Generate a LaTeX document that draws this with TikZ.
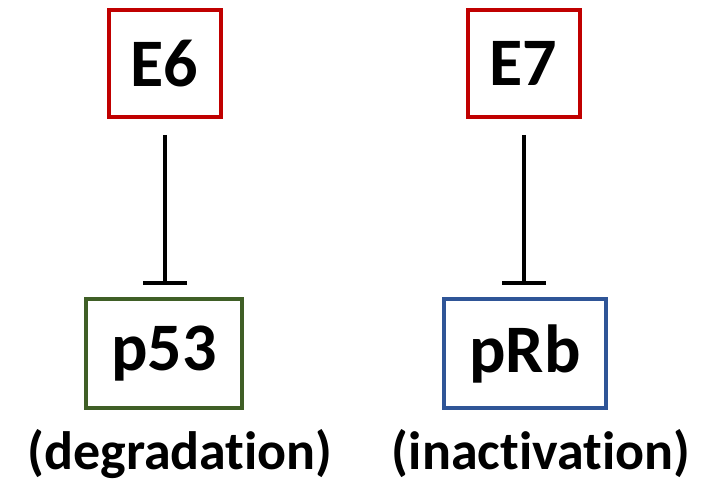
\documentclass[tikz,border=0pt]{standalone}
\usepackage{fontspec}
\setmainfont{Carlito}[Ligatures={NoCommon,NoContextual}]
\usetikzlibrary{arrows.meta}
\definecolor{boxred}{HTML}{C00000}
\definecolor{boxgreen}{HTML}{3F5F26}
\definecolor{boxblue}{HTML}{2F5597}
\begin{document}
\begin{tikzpicture}[x=1pt,y=-1pt,
  gene/.style={draw, line width=4pt, inner sep=0pt, font=\fontsize{68}{72}\selectfont\bfseries, text=black},
  inhib/.style={line width=4pt, -{Bar[width=44pt,line width=4pt]}, shorten >=12pt},
  lbl/.style={font=\fontsize{54}{58}\selectfont\bfseries, inner sep=0pt}]
\useasboundingbox (0,0) rectangle (715,484);
\node[gene, draw=boxred, minimum width=112pt, minimum height=107pt] (e6) at (164.5,63.5) {E6};
\node[gene, draw=boxred, minimum width=112pt, minimum height=107pt] (e7) at (523.5,63.5) {E7};
\node[gene, draw=boxgreen, minimum width=156pt, minimum height=109pt] (p53) at (164,353.5) {p53};
\node[gene, draw=boxblue, minimum width=162pt, minimum height=109pt] (prb) at (525,353.5) {pRb};
\draw[inhib, shorten <=16pt] (e6.south -| 165,0) -- (p53.north -| 165,0);
\draw[inhib, shorten <=16pt] (e7.south -| 524,0) -- (prb.north -| 524,0);
\node[lbl] (deg) at (180,454) {(degradation)};
\node[lbl] (inact) at (541,454) {(inactivation)};
\end{tikzpicture}
\end{document}
